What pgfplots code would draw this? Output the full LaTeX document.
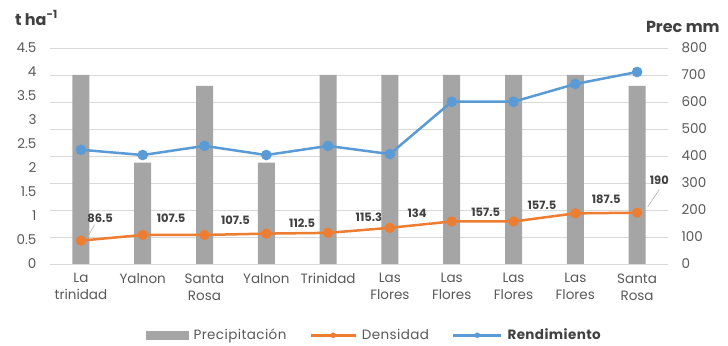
\documentclass[border=0pt]{standalone}
\usepackage{pgfplots}
\pgfplotsset{compat=1.18}
\usetikzlibrary{calc}
\usepackage{fontspec}
\setmainfont{Poppins}
\definecolor{bargray}{HTML}{A5A5A5}
\definecolor{orng}{HTML}{ED7D31}
\definecolor{blu}{HTML}{5B9BD5}
\definecolor{gridc}{HTML}{D9D9D9}
\definecolor{txt}{HTML}{595959}
\definecolor{dtxt}{HTML}{404040}
\begin{document}
\begin{tikzpicture}
\begin{axis}[name=ax,
  scale only axis, width=618pt, height=216pt,
  xmin=-0.5, xmax=9.5, ymin=0, ymax=800,
  axis line style={draw=none}, major tick length=0pt,
  ytick={0,100,...,800}, ymajorgrids, grid style={gridc, line width=0.8pt},
  yticklabel pos=right,
  /pgf/number format/assume math mode=true,
  yticklabel style={font=\fontsize{13.5}{15}\selectfont, text=txt, xshift=10pt},
  xtick={0,...,9},
  xticklabels={{La\\trinidad},{Yalnon},{Santa\\Rosa},{Yalnon},{Trinidad},{Las\\Flores},{Las\\Flores},{Las\\Flores},{Las\\Flores},{Santa\\Rosa}},
  xticklabel style={font=\fontsize{13.5}{17}\selectfont, text=txt, align=center, yshift=-6pt},
  clip=false,
  legend style={at={(0.525,-0.33)}, anchor=center, draw=none, fill=none,
    legend columns=-1, font=\fontsize{13.5}{15}\selectfont\addfontfeatures{LetterSpace=3}, text=txt,
    /tikz/every odd column/.append style={column sep=3pt},
    /tikz/every even column/.append style={column sep=21pt}},
]
\addplot[ybar, bar width=17pt, fill=bargray, draw=none, forget plot] coordinates {
  (0,700) (1,375) (2,660) (3,375) (4,700) (5,700) (6,700) (7,700) (8,700) (9,660)};
\addplot[orng, line width=2.5pt, mark=*, mark size=3.8pt, mark options={fill=orng, draw=orng}, forget plot] coordinates {
  (0,86.5) (1,107.5) (2,107.5) (3,112.5) (4,115.3) (5,134) (6,157.5) (7,157.5) (8,187.5) (9,190)};
\draw[gray!60, line width=0.6pt] (axis cs:0.10,96) -- (axis cs:0.22,146);
\draw[gray!60, line width=0.6pt] (axis cs:9.17,211) -- (axis cs:9.36,276);
\addplot[draw=none, forget plot, nodes near coords, point meta=explicit symbolic,
  nodes near coords style={anchor=center, font=\bfseries\fontsize{11.5}{13}\selectfont, text=dtxt}]
  table[meta=lab] {
x y lab
0.31 170 86.5
1.46 170 107.5
2.50 163 107.5
3.58 152 112.5
4.66 174 115.3
5.44 189 134
6.55 193 157.5
7.46 219 157.5
8.50 241 187.5
9.36 311 190
};
\addlegendimage{legend image code/.code={\fill[bargray] (0pt,-4pt) rectangle (42pt,4pt);}}
\addlegendentry{Precipitación}
\addlegendimage{legend image code/.code={\draw[orng, line width=2.5pt] (0pt,0pt) -- (45pt,0pt); \fill[orng] (22.5pt,0pt) circle (2.5pt);}}
\addlegendentry{Densidad}
\addlegendimage{legend image code/.code={\draw[blu, line width=2.5pt] (0pt,0pt) -- (48pt,0pt); \fill[blu] (24pt,0pt) circle (2.5pt);}}
\addlegendentry{\textcolor{dtxt}{\bfseries Rendimiento}}
\node[anchor=center, font=\bfseries\fontsize{16}{18}\selectfont, text=dtxt] at (rel axis cs:1.024,1.097) {Prec mm};
\end{axis}
\begin{axis}[
  scale only axis, width=618pt, height=216pt,
  xmin=-0.5, xmax=9.5, ymin=0, ymax=4.5,
  axis line style={draw=none}, major tick length=0pt,
  ytick={0,0.5,...,4.5}, xtick=\empty,
  yticklabel pos=left,
  /pgf/number format/assume math mode=true,
  yticklabel style={font=\fontsize{13.5}{15}\selectfont, text=txt, xshift=-10pt},
  clip=false,
]
\addplot[blu, line width=2.5pt, mark=*, mark size=4pt, mark options={fill=blu, draw=blu}] coordinates {
  (0,2.38) (1,2.27) (2,2.46) (3,2.27) (4,2.46) (5,2.29) (6,3.38) (7,3.38) (8,3.75) (9,4.0)};
\node[anchor=center, font=\bfseries\fontsize{16}{18}\selectfont, text=dtxt] at (rel axis cs:-0.022,1.139) {t ha\textsuperscript{-1}};
\end{axis}
\path (ax.south west) ++(-50pt,-81pt) rectangle ($(ax.north east)+(60pt,48pt)$);
\end{tikzpicture}
\end{document}
